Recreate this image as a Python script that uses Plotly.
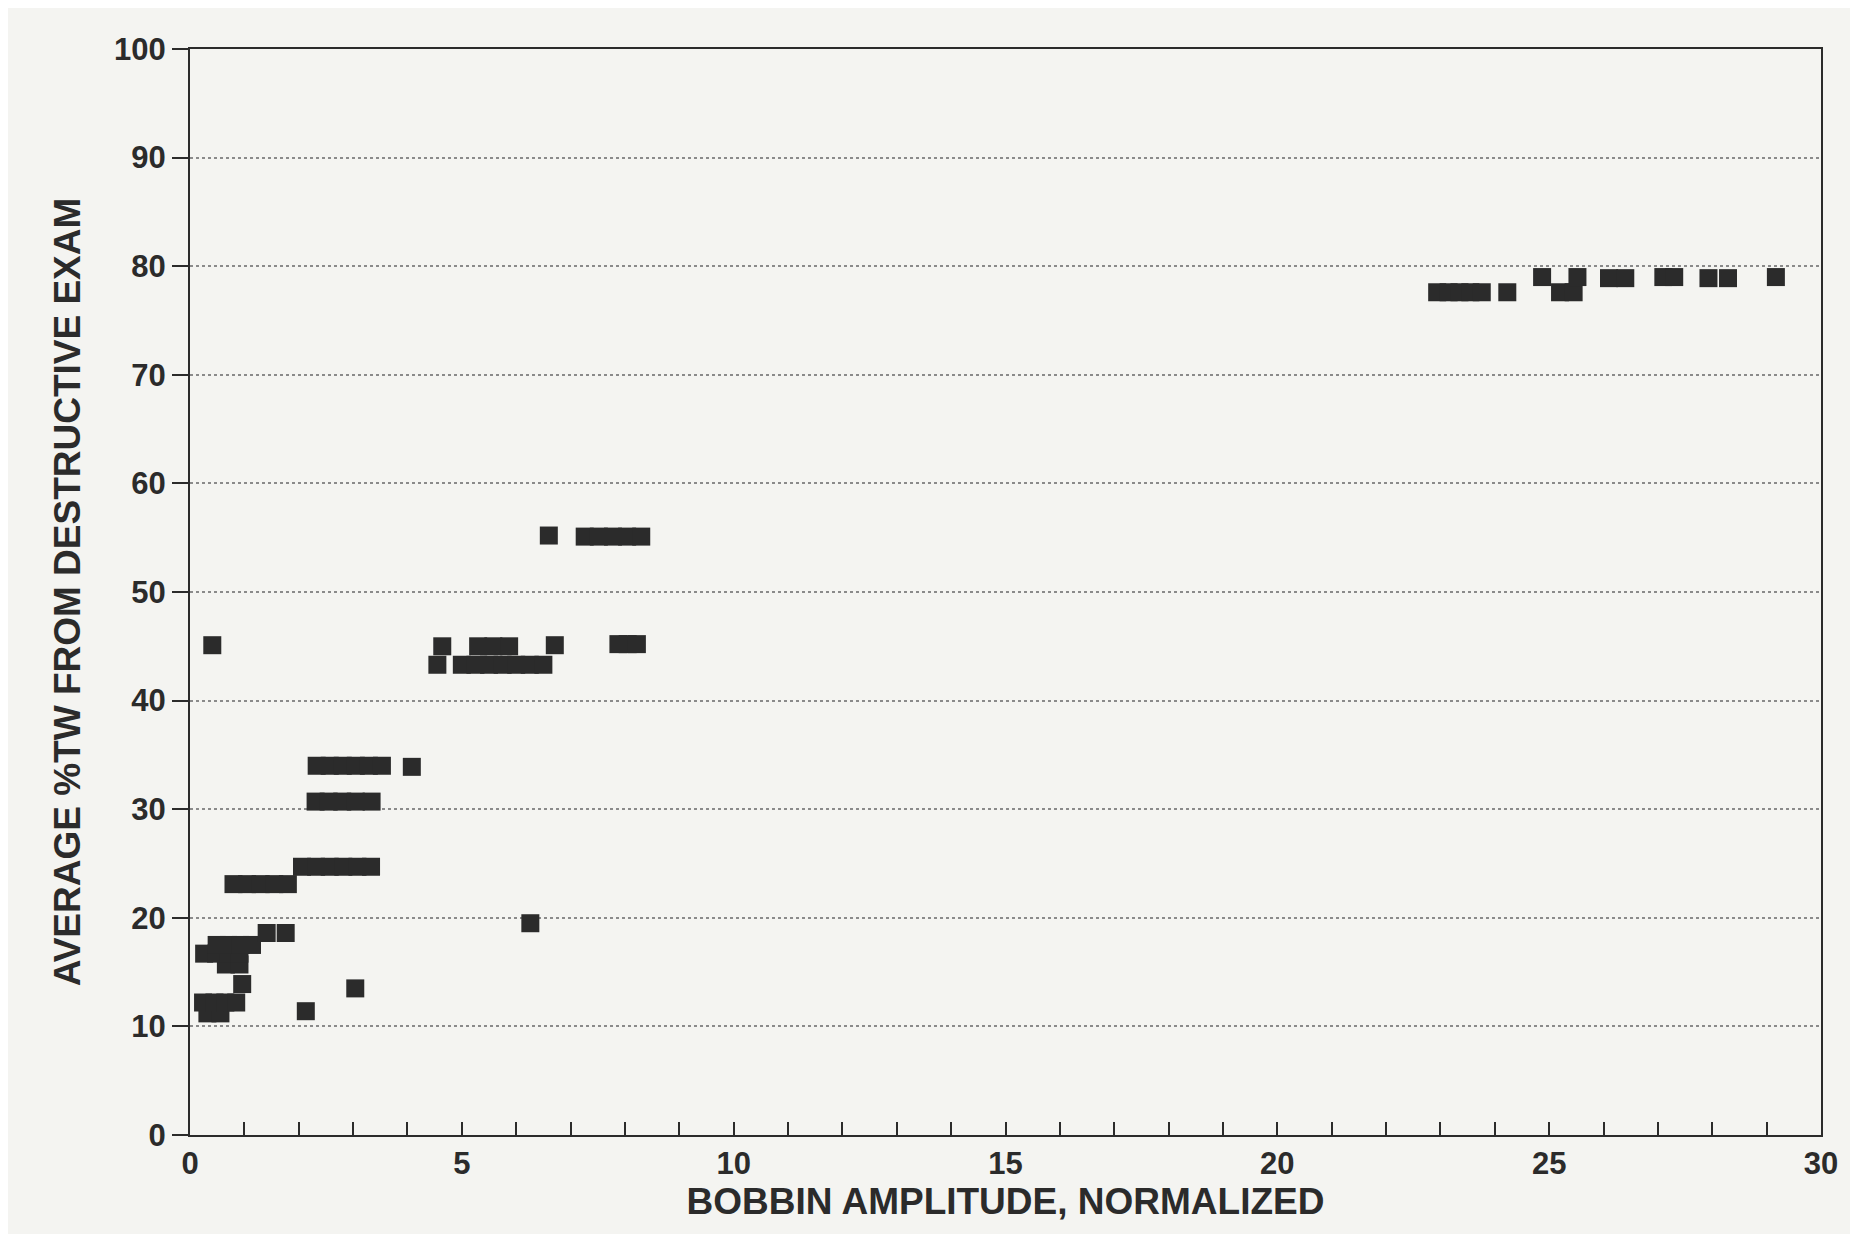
import plotly.graph_objects as go

# Data (x = bobbin amplitude, y = avg %TW)
x_vals = [
    0.32, 0.56,
    2.13,
    0.24, 0.45, 0.65, 0.85,
    3.04,
    0.96,
    0.66, 0.91,
    0.26, 0.48, 0.70, 0.91,
    0.49, 0.71, 0.93, 1.14,
    1.41, 1.76,
    6.26,
    0.80, 1.05, 1.30, 1.55, 1.80,
    2.06, 2.32, 2.57, 2.82, 3.08, 3.33,
    2.31, 2.55, 2.80, 3.05, 3.34,
    2.33, 2.57, 2.81, 3.05, 3.29, 3.53,
    4.08,
    0.41,
    4.55, 5.00, 5.25, 5.50, 5.75, 6.00, 6.25, 6.50,
    4.64, 5.30, 5.58, 5.87, 6.71, 7.88, 8.05, 8.22,
    6.60, 7.26, 7.52, 7.78, 8.04, 8.30,
    22.94, 23.15, 23.35, 23.55, 23.76, 24.23, 25.20, 25.45,
    24.87, 25.52, 26.10, 26.40, 27.10, 27.30, 27.93, 28.29, 29.17,
]
y_vals = [
    11.2, 11.2,
    11.4,
    12.2, 12.2, 12.2, 12.2,
    13.5,
    13.9,
    15.7, 15.7,
    16.7, 16.7, 16.7, 16.7,
    17.5, 17.5, 17.5, 17.5,
    18.6, 18.6,
    19.5,
    23.1, 23.1, 23.1, 23.1, 23.1,
    24.7, 24.7, 24.7, 24.7, 24.7, 24.7,
    30.7, 30.7, 30.7, 30.7, 30.7,
    34.0, 34.0, 34.0, 34.0, 34.0, 34.0,
    33.9,
    45.1,
    43.3, 43.3, 43.3, 43.3, 43.3, 43.3, 43.3, 43.3,
    45.0, 45.0, 45.0, 45.0, 45.1, 45.2, 45.2, 45.2,
    55.2, 55.1, 55.1, 55.1, 55.1, 55.1,
    77.6, 77.6, 77.6, 77.6, 77.6, 77.6, 77.6, 77.6,
    79.0, 79.0, 78.9, 78.9, 79.0, 79.0, 78.9, 78.9, 79.0,
]

x_ticks = [0, 5, 10, 15, 20, 25, 30]
y_ticks = [0, 10, 20, 30, 40, 50, 60, 70, 80, 90, 100]

x_title = "BOBBIN AMPLITUDE, NORMALIZED"
y_title = "AVERAGE %TW FROM DESTRUCTIVE EXAM"

paper = "#f4f4f1"
ink = "#2b2b2b"
font_family = "Liberation Sans, Arial, Helvetica, sans-serif"

fig = go.Figure()
fig.add_trace(go.Scatter(
    x=x_vals, y=y_vals, mode="markers",
    marker=dict(symbol="square", size=18, color=ink, line=dict(width=0)),
    showlegend=False, hoverinfo="x+y",
))

fig.update_layout(
    width=1858, height=1234,
    paper_bgcolor=paper, plot_bgcolor=paper,
    margin=dict(l=182, r=45, t=41, b=107),
    font=dict(family=font_family, color=ink),
    xaxis=dict(
        range=[0, 30], tickmode="array", tickvals=x_ticks,
        ticktext=[str(v) for v in x_ticks],
        showgrid=False, zeroline=False,
        showline=True, linecolor=ink, linewidth=2, mirror=True,
        ticks="inside", ticklen=13, tickwidth=2, tickcolor=ink,
        minor=dict(dtick=1, ticks="inside", ticklen=13, tickwidth=2, tickcolor=ink),
        tickfont=dict(size=31, family=font_family, color=ink, weight="bold"),
        title=dict(text=x_title, font=dict(size=37, color=ink, weight="bold"), standoff=4),
    ),
    yaxis=dict(
        range=[0, 100], tickmode="array", tickvals=y_ticks,
        ticktext=[str(v) for v in y_ticks],
        showgrid=True, gridcolor="#8a8a8a", griddash="dot", gridwidth=1.5,
        zeroline=False,
        showline=True, linecolor=ink, linewidth=2, mirror=True,
        ticks="outside", ticklen=16, tickwidth=2, tickcolor=ink,
        tickfont=dict(size=31, family=font_family, color=ink, weight="bold"),
        title=dict(text=y_title, font=dict(size=37, color=ink, weight="bold"), standoff=22),
    ),
)

fig.write_html("out.html")
